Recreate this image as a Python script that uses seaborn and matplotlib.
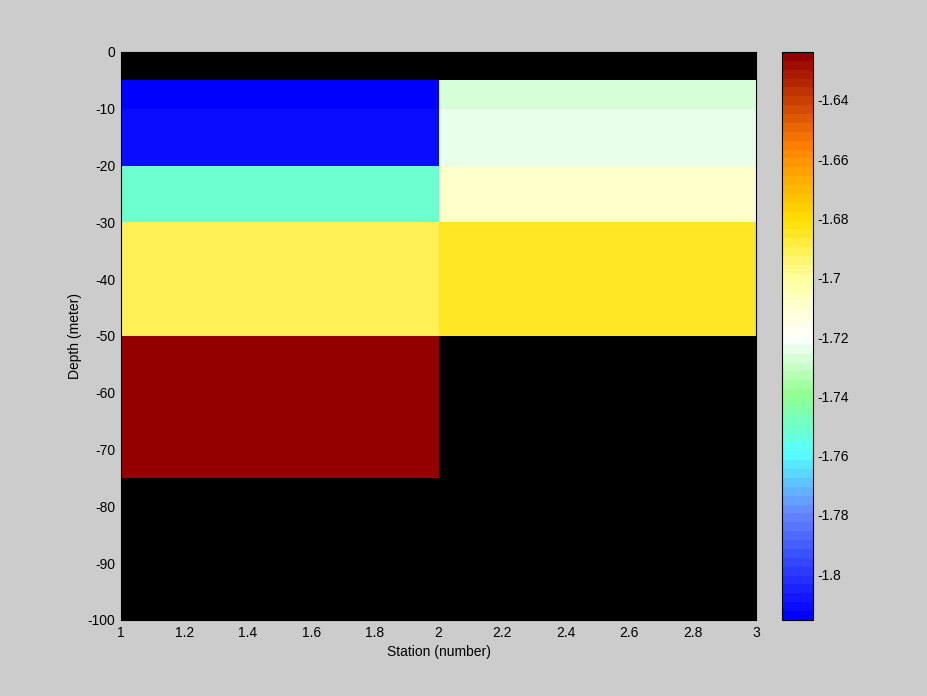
import numpy as np
import matplotlib
matplotlib.use("Agg")
import matplotlib.pyplot as plt
from matplotlib.colors import LinearSegmentedColormap
import seaborn as sns

# estação (bordas das células) e profundidade (bordas das camadas)
estacoes = [1, 2, 3]
profundidades = [0, -5, -10, -20, -30, -50, -75, -100]

# valores por camada (NaN = sem dado, aparece em preto)
estacao_1 = [np.nan, -1.814, -1.811, -1.750, -1.690, -1.625, np.nan]
estacao_2 = [np.nan, -1.726, -1.723, -1.709, -1.685, np.nan, np.nan]

cor_min, cor_max = -1.8155, -1.6238
ticks_cbar = [-1.8, -1.78, -1.76, -1.74, -1.72, -1.7, -1.68, -1.66, -1.64]

sns.set_style("white")
plt.rcParams["font.family"] = ["Liberation Sans", "DejaVu Sans"]
plt.rcParams["axes.unicode_minus"] = False
plt.rcParams["text.color"] = "black"
plt.rcParams["axes.labelcolor"] = "black"
plt.rcParams["xtick.color"] = "black"
plt.rcParams["ytick.color"] = "black"

# mapa de cores azul -> ciano -> branco -> amarelo -> vermelho escuro
cores = [
    (0.0, "#0000ff"),
    (0.185, "#6688ff"),
    (0.29, "#55ffff"),
    (0.394, "#90ff90"),
    (0.498, "#ffffff"),
    (0.603, "#ffffa0"),
    (0.707, "#ffe000"),
    (0.84, "#ff8000"),
    (1.0, "#940000"),
]
cmap = LinearSegmentedColormap.from_list("temp", cores, N=64)

C = np.column_stack([estacao_1, estacao_2])
C = np.ma.masked_invalid(C)

fig = plt.figure(figsize=(9.28, 6.96), dpi=100, facecolor="#cccccc")
ax = fig.add_axes([0.1304, 0.1092, 0.6843, 0.8161])
ax.set_facecolor("black")
malha = ax.pcolormesh(estacoes, profundidades, C, cmap=cmap,
                      vmin=cor_min, vmax=cor_max, shading="flat")
ax.set_xlim(1, 3)
ax.set_ylim(-100, 0)
ax.set_xticks(np.arange(1, 3.01, 0.2))
ax.set_xticklabels(["1", "1.2", "1.4", "1.6", "1.8", "2", "2.2", "2.4", "2.6", "2.8", "3"])
ax.set_yticks(np.arange(-100, 1, 10))
ax.tick_params(labelsize=10, length=0, pad=4)
ax.set_xlabel("Station (number)", fontsize=10, labelpad=4)
ax.set_ylabel("Depth (meter)", fontsize=10)
for s in ax.spines.values():
    s.set_color("black")
    s.set_linewidth(0.8)

cax = fig.add_axes([0.8427, 0.1092, 0.0334, 0.8161])
cb = fig.colorbar(malha, cax=cax, ticks=ticks_cbar)
cb.ax.set_yticklabels(["-1.8", "-1.78", "-1.76", "-1.74", "-1.72", "-1.7", "-1.68", "-1.66", "-1.64"])
cb.ax.tick_params(labelsize=10, direction="in", length=4, width=0.8,
                  left=True, right=True, color="black", pad=3)
cb.outline.set_linewidth(0.8)
cb.outline.set_edgecolor("black")

fig.savefig("out.png", dpi=100, facecolor=fig.get_facecolor())
plt.close(fig)
